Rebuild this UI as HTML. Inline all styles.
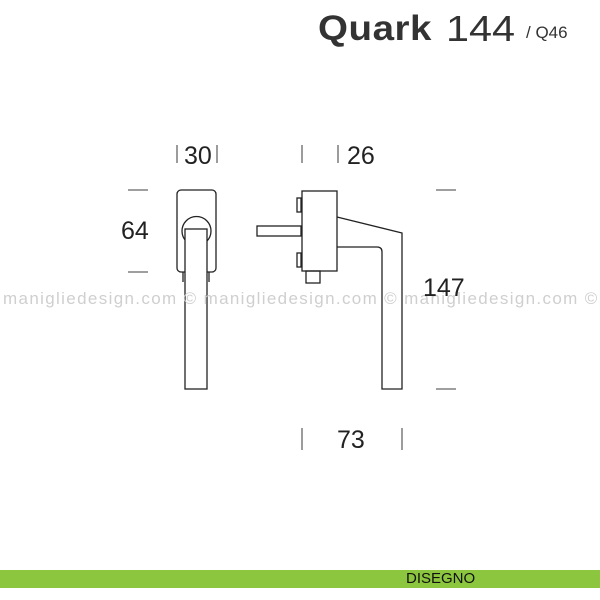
<!DOCTYPE html>
<html><head><style>
body{margin:0;width:600px;height:600px;background:#fff;position:relative;overflow:hidden;font-family:"Liberation Sans",sans-serif}
.t{position:absolute;white-space:nowrap;line-height:1}
</style></head><body>
<div class="t" style="left:318px;top:11px;font-size:35px;font-weight:bold;color:#333;letter-spacing:0.5px;transform:scaleX(1.1);transform-origin:left">Quark</div>
<div class="t" style="left:446px;top:11px;font-size:36px;color:#333;transform:scaleX(1.15);transform-origin:left">144</div>
<div class="t" style="left:526px;top:24px;font-size:17px;color:#333">/ Q46</div>
<svg width="600" height="600" style="position:absolute;left:0;top:0" fill="none" stroke="#222" stroke-width="1.3">
<g stroke="#666">
<line x1="177" y1="145" x2="177" y2="163"/><line x1="217" y1="145" x2="217" y2="163"/>
<line x1="302" y1="145" x2="302" y2="163"/><line x1="338" y1="145" x2="338" y2="163"/>
<line x1="128" y1="190" x2="148" y2="190"/><line x1="128" y1="272" x2="148" y2="272"/>
<line x1="436" y1="190" x2="456" y2="190"/><line x1="436" y1="389" x2="456" y2="389"/>
<line x1="302" y1="428" x2="302" y2="450"/><line x1="402" y1="428" x2="402" y2="450"/>
</g>
<rect x="177" y="190" width="39" height="82" rx="4"/>
<circle cx="196.5" cy="231" r="14.5"/>
<rect x="185" y="229" width="22" height="160" fill="#fff"/>
<line x1="183" y1="272" x2="183" y2="282"/><line x1="209" y1="272" x2="209" y2="282"/>
<rect x="257" y="226" width="44" height="10"/>
<rect x="297" y="198" width="4" height="14"/>
<rect x="297" y="253" width="4" height="14"/>
<rect x="306" y="271" width="14" height="12"/>
<rect x="302" y="191" width="35" height="80"/>
<path d="M337 217 L402 233 L402 389 L382 389 L382 252 Q382 247 377 247 L337 247"/>
</svg>
<div class="t" style="left:3px;top:290px;font-size:17px;color:#cfcfcf;letter-spacing:1.35px">maniglie​design.com © maniglie​design.com © maniglie​design.com ©</div>
<div class="t" style="left:184px;top:144px;font-size:25px;color:#222">30</div>
<div class="t" style="left:347px;top:144px;font-size:25px;color:#222">26</div>
<div class="t" style="left:121px;top:219px;font-size:25px;color:#222">64</div>
<div class="t" style="left:423px;top:276px;font-size:25px;color:#222">147</div>
<div class="t" style="left:337px;top:428px;font-size:25px;color:#222">73</div>
<div style="position:absolute;left:0;top:570px;width:600px;height:18px;background:#8cc63e"></div>
<div class="t" style="left:406px;top:571px;font-size:15px;color:#111;letter-spacing:0px">DISEGNO</div>
</body></html>
